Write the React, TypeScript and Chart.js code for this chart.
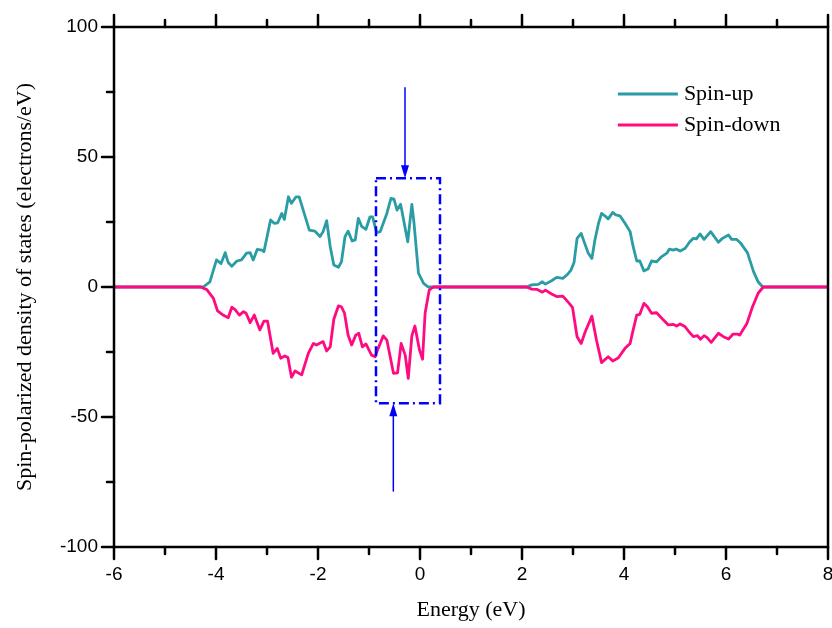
import React, { useEffect, useRef } from 'react';
import { Chart, registerables } from 'chart.js';
Chart.register(...registerables);

// ---- data ----
const energyUp = [
  -6, -4.51, -4.25, -4.12, -3.99, -3.9, -3.82, -3.76, -3.69, -3.59, -3.5, -3.4, -3.33, -3.27, -3.19, -3.1, -3.06,
  -2.93, -2.86, -2.79, -2.71, -2.66, -2.58, -2.52, -2.43, -2.37, -2.29, -2.17, -2.06, -1.96, -1.9, -1.83, -1.76,
  -1.69, -1.6, -1.54, -1.47, -1.41, -1.33, -1.27, -1.21, -1.14, -1.06, -0.98, -0.93, -0.85, -0.78, -0.65, -0.57,
  -0.51, -0.45, -0.38, -0.24, -0.16, -0.12, -0.03, 0.07, 0.16,
  2.09, 2.19, 2.32, 2.4, 2.46, 2.58, 2.68, 2.8, 2.88, 2.96, 3.02, 3.08, 3.16, 3.24, 3.3, 3.37, 3.43, 3.5, 3.56,
  3.63, 3.69, 3.78, 3.84, 3.92, 4.02, 4.12, 4.18, 4.25, 4.31, 4.39, 4.47, 4.54, 4.64, 4.74, 4.84, 4.89, 4.97,
  5.02, 5.1, 5.2, 5.29, 5.36, 5.42, 5.49, 5.57, 5.7, 5.85, 5.93, 6.05, 6.11, 6.21, 6.29, 6.42, 6.54, 6.63, 6.72, 8,
];
const dosUp = [
  0, 0, 0, 2, 10.4, 9, 13.2, 9.4, 8, 10, 10.4, 13, 13.2, 10.4, 14.5, 14.2, 13.6,
  25.8, 24.5, 24.7, 28.3, 26, 34.7, 32.2, 34.7, 34.7, 29.6, 21.9, 21.5, 19.4, 21.3, 25.5, 15.5,
  8.5, 7.6, 9.7, 19.4, 21.5, 17.7, 18.1, 26.4, 23.2, 22.2, 27, 27, 20.9, 21.3, 28.3, 34.1,
  33.8, 29.6, 31.8, 17.4, 31.8, 25.1, 5.3, 1.4, 0,
  0, 0.8, 1, 2, 1.1, 2.4, 3.7, 3.3, 4.6, 6.5, 9.4, 18.7, 20.6, 16.2, 13, 11, 18.1, 24.5, 28.3,
  27.3, 26.2, 28.7, 27.7, 27.4, 24.5, 21.3, 15.5, 10, 10, 6.2, 6.9, 10, 9.7, 11.7, 13, 14.6, 14.2,
  14.6, 13.8, 14.9, 17.4, 18.7, 18.5, 20.4, 18.3, 21.3, 17.2, 18.7, 20, 18.3, 18.3, 16.8, 13.2, 5.9, 2, 0, 0,
];
const energyDown = [
  -6, -4.3, -4.18, -4.05, -3.97, -3.86, -3.76, -3.69, -3.63, -3.54, -3.46, -3.41, -3.33, -3.25, -3.14, -3.06, -2.99,
  -2.88, -2.8, -2.73, -2.65, -2.59, -2.52, -2.45, -2.32, -2.19, -2.09, -2.03, -1.9, -1.83, -1.76, -1.69, -1.6,
  -1.54, -1.48, -1.41, -1.34, -1.26, -1.2, -1.13, -1.06, -0.95, -0.88, -0.82, -0.72, -0.65, -0.52, -0.44, -0.37,
  -0.29, -0.23, -0.16, -0.1, -0.01, 0.05, 0.1, 0.18, 0.26,
  2.09, 2.19, 2.29, 2.4, 2.46, 2.58, 2.68, 2.8, 2.91, 2.99, 3.08, 3.16, 3.24, 3.37, 3.46, 3.56, 3.69, 3.78, 3.89,
  4.02, 4.12, 4.18, 4.25, 4.31, 4.39, 4.46, 4.54, 4.64, 4.74, 4.87, 4.97, 5.03, 5.1, 5.2, 5.29, 5.36, 5.44, 5.5,
  5.57, 5.63, 5.71, 5.85, 5.95, 6.05, 6.14, 6.22, 6.27, 6.41, 6.52, 6.63, 6.73, 8,
];
const dosDown = [
  0, 0, -1, -4.4, -9.2, -10.8, -11.8, -7.8, -8.6, -10.8, -9.5, -10.1, -13.7, -10.8, -16.5, -13.1, -13.1,
  -25.5, -23.6, -27.4, -26.5, -27.1, -34.7, -32.3, -33.8, -25.5, -21.7, -22.3, -21, -24.6, -23, -12.4, -7.3,
  -7.6, -10.1, -18.5, -22.3, -18.5, -17.8, -23, -21.9, -26.2, -26.8, -23.6, -18.8, -20.4, -33.2, -33, -21.7,
  -26.2, -35.1, -18.8, -15, -24.2, -27.8, -10.1, -1.2, 0,
  0, -0.8, -0.9, -2, -1.2, -2.7, -3.7, -3.5, -5.9, -7.8, -19.1, -21.7, -17.2, -11.2, -20.4, -29.1, -26.8, -28.5, -27.2,
  -23.6, -21.7, -16.5, -10.8, -10.5, -6.3, -7.6, -10.1, -9.9, -12, -14.6, -14.4, -15, -14.2, -15.3, -17.6, -19.1, -18.7, -20.1,
  -18.7, -19.5, -21.3, -17.8, -19.1, -20, -18.1, -18.1, -18.5, -14, -7.6, -2.4, 0, 0,
];

const xRange = [-6, 8];
const yRange = [-100, 100];
const xLabelStep = 2;
const xMinorStep = 1;
const yLabelStep = 50;
const yMinorStep = 25;

// highlighted region (data units)
const boxEnergy = [-0.863, 0.392];
const boxDos = [41.8, -44.7];
const arrowTopEnergy = -0.294;
const arrowTopDos = [76.8, 41.8];
const arrowBottomEnergy = -0.523;
const arrowBottomDos = [-78.7, -44.7];

const seriesLabels = ['Spin-up', 'Spin-down'];
const UP_COLOR = '#2a9ca4';
const DOWN_COLOR = '#ff0a80';
const SERIF = '"Liberation Serif", "Times New Roman", serif';
const SANS = '"Liberation Sans", Arial, sans-serif';

const decorPlugin = {
  id: 'decor',
  afterDatasetsDraw(chart: any) {
    const { ctx, chartArea: a, scales } = chart;
    const x = scales.x;
    const y = scales.y;
    ctx.save();

    // highlight box
    ctx.strokeStyle = '#0000ff';
    ctx.lineWidth = 2.5;
    ctx.setLineDash([10, 4, 2, 4]);
    const bx1 = x.getPixelForValue(boxEnergy[0]);
    const bx2 = x.getPixelForValue(boxEnergy[1]);
    const by1 = y.getPixelForValue(boxDos[0]);
    const by2 = y.getPixelForValue(boxDos[1]);
    ctx.strokeRect(bx1, by1, bx2 - bx1, by2 - by1);
    ctx.setLineDash([]);

    // arrows
    const arrow = (ex: number, d0: number, d1: number) => {
      const px = x.getPixelForValue(ex);
      const p0 = y.getPixelForValue(d0);
      const p1 = y.getPixelForValue(d1);
      const dir = p1 > p0 ? 1 : -1;
      ctx.strokeStyle = '#0000ff';
      ctx.fillStyle = '#0000ff';
      ctx.lineWidth = 1.5;
      ctx.beginPath();
      ctx.moveTo(px, p0);
      ctx.lineTo(px, p1 - dir * 10);
      ctx.stroke();
      ctx.beginPath();
      ctx.moveTo(px, p1);
      ctx.lineTo(px - 4, p1 - dir * 13);
      ctx.lineTo(px + 4, p1 - dir * 13);
      ctx.closePath();
      ctx.fill();
    };
    arrow(arrowTopEnergy, arrowTopDos[0], arrowTopDos[1]);
    arrow(arrowBottomEnergy, arrowBottomDos[0], arrowBottomDos[1]);

    // frame
    ctx.strokeStyle = '#000';
    ctx.lineWidth = 2.5;
    ctx.strokeRect(a.left, a.top, a.right - a.left, a.bottom - a.top);

    // ticks
    ctx.lineCap = 'round';
    const seg = (x1: number, y1: number, x2: number, y2: number) => {
      ctx.beginPath();
      ctx.moveTo(x1, y1);
      ctx.lineTo(x2, y2);
      ctx.stroke();
    };
    for (let v = xRange[0]; v <= xRange[1] + 1e-9; v += xMinorStep) {
      const px = x.getPixelForValue(v);
      const major = Math.abs(Math.round(v) % xLabelStep) === 0;
      const len = major ? 12 : 7;
      seg(px, a.bottom, px, a.bottom + len);
      seg(px, a.top, px, a.top - len);
    }
    for (let v = yRange[0]; v <= yRange[1] + 1e-9; v += yMinorStep) {
      const py = y.getPixelForValue(v);
      const major = Math.abs(Math.round(v) % yLabelStep) === 0;
      const len = major ? 12 : 7;
      seg(a.left, py, a.left - len, py);
    }

    // legend
    const colors = [UP_COLOR, DOWN_COLOR];
    const lx = x.getPixelForValue(3.88);
    const legendY = [a.top + 67, a.top + 98];
    ctx.lineCap = 'butt';
    ctx.font = `22px ${SERIF}`;
    ctx.textBaseline = 'middle';
    ctx.textAlign = 'left';
    seriesLabels.forEach((lab, i) => {
      ctx.strokeStyle = colors[i];
      ctx.lineWidth = 3;
      seg(lx, legendY[i], lx + 60, legendY[i]);
      ctx.fillStyle = '#000';
      ctx.fillText(lab, lx + 66, legendY[i]);
    });
    ctx.restore();
  },
};

export default function App() {
  const ref = useRef<HTMLCanvasElement>(null);
  useEffect(() => {
    if (!ref.current) return;
    const upData = energyUp.map((e, i) => ({ x: e, y: dosUp[i] }));
    const downData = energyDown.map((e, i) => ({ x: e, y: dosDown[i] }));
    const chart = new Chart(ref.current, {
      type: 'line',
      data: {
        datasets: [
          {
            label: seriesLabels[0],
            data: upData,
            borderColor: UP_COLOR,
            borderWidth: 2.8,
            pointRadius: 0,
            tension: 0,
            order: 2,
            borderJoinStyle: 'round',
          },
          {
            label: seriesLabels[1],
            data: downData,
            borderColor: DOWN_COLOR,
            borderWidth: 2.8,
            pointRadius: 0,
            tension: 0,
            order: 1,
            borderJoinStyle: 'round',
          },
        ],
      },
      options: {
        animation: false,
        responsive: false,
        devicePixelRatio: 1,
        layout: { padding: { top: 27, right: 4, left: 0, bottom: 0 } },
        plugins: { legend: { display: false }, tooltip: { enabled: false } },
        scales: {
          x: {
            type: 'linear',
            min: xRange[0],
            max: xRange[1],
            grid: { display: false, drawTicks: false },
            border: { display: false },
            ticks: {
              stepSize: xLabelStep,
              color: '#000',
              font: { family: SANS, size: 19 },
              padding: 16,
              maxRotation: 0,
              autoSkip: false,
            },
            title: {
              display: true,
              text: 'Energy (eV)',
              color: '#000',
              font: { family: SERIF, size: 22 },
              padding: { top: 0, bottom: 5 },
            },
            afterFit(s: any) {
              s.height = 81;
              s.paddingLeft = 0;
              s.paddingRight = 0;
            },
          },
          y: {
            min: yRange[0],
            max: yRange[1],
            grid: { display: false, drawTicks: false },
            border: { display: false },
            ticks: {
              stepSize: yLabelStep,
              color: '#000',
              font: { family: SANS, size: 19 },
              padding: 16,
            },
            title: {
              display: true,
              text: 'Spin-polarized density of states (electrons/eV)',
              color: '#000',
              font: { family: SERIF, size: 22 },
              padding: { top: 12, bottom: 0 },
            },
            afterFit(s: any) {
              s.width = 114;
              s.paddingTop = 0;
              s.paddingBottom = 0;
            },
          },
        },
      } as any,
      plugins: [decorPlugin],
    });
    return () => chart.destroy();
  }, []);
  return (
    <div style={{ position: 'fixed', left: 0, top: 0, width: 832, height: 628, background: '#fff' }}>
      <canvas ref={ref} width={832} height={628} style={{ display: 'block' }} />
    </div>
  );
}
